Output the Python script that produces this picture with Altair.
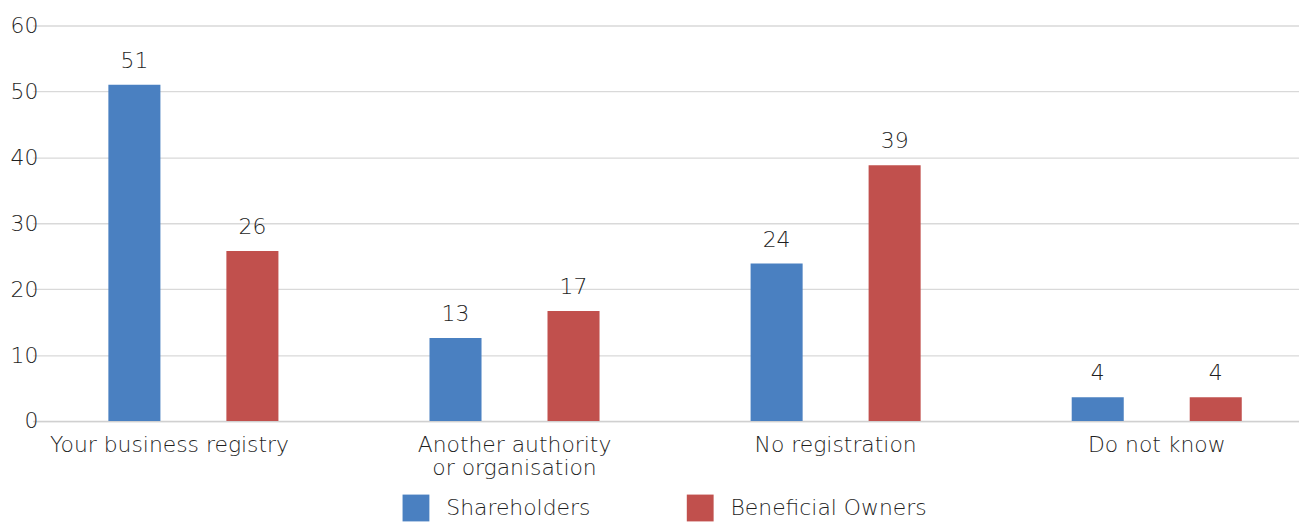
import altair as alt
import pandas as pd

categories = ["Your business registry", "Another authority or organisation", "No registration", "Do not know"]
series = ["Shareholders", "Beneficial Owners"]
shareholders = [51.0, 12.6, 23.9, 3.6]
beneficial_owners = [25.8, 16.7, 38.8, 3.6]
colors = ["#4A80C1", "#C1504D"]
y_ticks = [0, 10, 20, 30, 40, 50, 60]

rows = []
for c, a, b in zip(categories, shareholders, beneficial_owners):
    rows.append({"category": c, "series": series[0], "value": a})
    rows.append({"category": c, "series": series[1], "value": b})
df = pd.DataFrame(rows)

FONT = "DejaVu Sans"
FW = 300
FS = 22
TXT = "#1f1f1f"

x = alt.X(
    "category:N", sort=categories, title=None,
    scale=alt.Scale(range=[-24, 1268.4], paddingInner=0, paddingOuter=0),
    axis=alt.Axis(
        labelAngle=0, labelFont=FONT, labelFontWeight=FW, labelFontSize=FS, labelColor=TXT,
        ticks=False, domainColor="#d0d0d0", domainWidth=1.5, labelPadding=14,
        labelLimit=0, labelLineHeight=23,
        labelExpr="datum.label == 'Another authority or organisation' ? ['Another authority', 'or organisation'] : datum.label",
        labelOffset={"condition": {"test": "datum.value == 'Your business registry'", "value": -24}, "value": 0},
    ),
)
xo = alt.XOffset("series:N", sort=series,
                 scale=alt.Scale(paddingInner=0.559, paddingOuter=0.64))
y = alt.Y(
    "value:Q", title=None,
    scale=alt.Scale(domain=[0, 60], nice=False),
    axis=alt.Axis(values=y_ticks, ticks=False, domain=False, gridColor="#d9d9d9",
                  gridWidth=1.3, labelFont=FONT, labelFontWeight=FW, labelFontSize=FS,
                  labelColor=TXT, labelPadding=19),
)
color = alt.Color(
    "series:N", sort=series,
    scale=alt.Scale(domain=series, range=colors),
    legend=alt.Legend(orient="none", legendX=348, legendY=472, direction="horizontal",
                      title=None, symbolType="square", symbolSize=729,
                      labelFontSize=FS, labelFont=FONT, labelFontWeight=FW, labelColor=TXT,
                      labelOffset=17, labelLimit=400,
                      columnPadding=96, symbolStrokeWidth=0, padding=0),
)

base = alt.Chart(df).encode(x=x, xOffset=xo, y=y)
bars = base.mark_bar().encode(color=color)
labels = base.mark_text(baseline="bottom", dy=-12, fontSize=FS, font=FONT, fontWeight=FW,
                        color=TXT).encode(text=alt.Text("value:Q", format=".0f"))

chart = (bars + labels).properties(
    width=1250, height=398,
    padding={"left": 49, "top": 16, "right": 0, "bottom": 100},
    autosize=alt.AutoSizeParams(type="none"),
).configure_view(stroke=None)

chart.save("out.html", embed_options={"renderer": "svg", "actions": False})
